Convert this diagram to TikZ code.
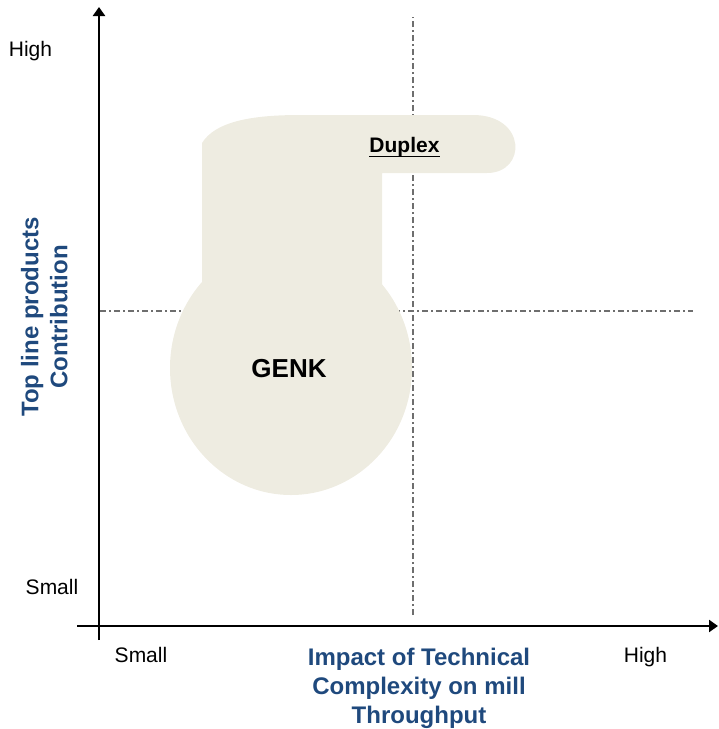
\documentclass[tikz,border=0pt]{standalone}
\usepackage{fontspec}
\setmainfont{Liberation Sans}
\usetikzlibrary{arrows.meta}
\definecolor{blobfill}{HTML}{EEECE1}
\definecolor{axisblue}{RGB}{31,73,125}
\definecolor{quadgray}{RGB}{110,110,110}
\begin{document}
\begin{tikzpicture}[x=1pt,y=-1pt,
  lbl/.style={font=\fontsize{21}{25}\selectfont, inner sep=0pt, anchor=base},
  ttl/.style={font=\fontsize{24}{29}\selectfont\bfseries, text=axisblue, inner sep=0pt, align=center},
  quadline/.style={draw=quadgray, line width=1.4pt, dash pattern=on 6pt off 3pt on 2pt off 3pt},
  axisline/.style={draw=black, line width=2.8pt, -{Triangle[length=9pt,width=12pt]}}]
\useasboundingbox (0,0) rectangle (719,729);
% quadrant dividers
\coordinate (vtop) at (413,17);
\coordinate (vbot) at (413,615);
\coordinate (hl) at (100,311);
\coordinate (hr) at (693,311);
\draw[quadline] (vbot) -- (vtop);
\draw[quadline] (hl) -- (hr);
% blob
\fill[blobfill] (291,368) ellipse [x radius=121, y radius=127];
\fill[blobfill] (202,300) -- (202,143)
  .. controls (215,122) and (250,115) .. (300,115)
  -- (473,115) .. controls (527,115) and (527,173) .. (487,173)
  -- (382,173) -- (382,300) -- cycle;
% axes
\coordinate (yb) at (99,640);
\coordinate (yt) at (99,7);
\coordinate (xl) at (77,626);
\coordinate (xr) at (718,626);
\draw[axisline] (yb) -- (yt);
\draw[axisline] (xl) -- (xr);
% labels
\node[lbl] (yhigh) at (30.5,56) {High};
\node[lbl] (ysmall) at (52,594) {Small};
\node[lbl] (xsmall) at (141,662) {Small};
\node[lbl] (xhigh) at (645.5,662) {High};
\node[ttl, anchor=north] (xtitle) at (419,647.5) {Impact of Technical\\Complexity on mill\\Throughput};
\node[ttl, anchor=north, rotate=90] (ytitle) at (20.8,317) {Top line products\\Contribution};
\node[font=\fontsize{26}{30}\selectfont\bfseries, inner sep=0pt, anchor=base] (genk) at (289,377) {GENK};
\node[font=\fontsize{21}{25}\selectfont\bfseries, inner sep=0pt, anchor=base] (dup) at (404.5,152) {Duplex};
\draw[line width=1.6pt] ([yshift=-4.5pt]dup.base west) -- ([yshift=-4.5pt]dup.base east);
\end{tikzpicture}
\end{document}
